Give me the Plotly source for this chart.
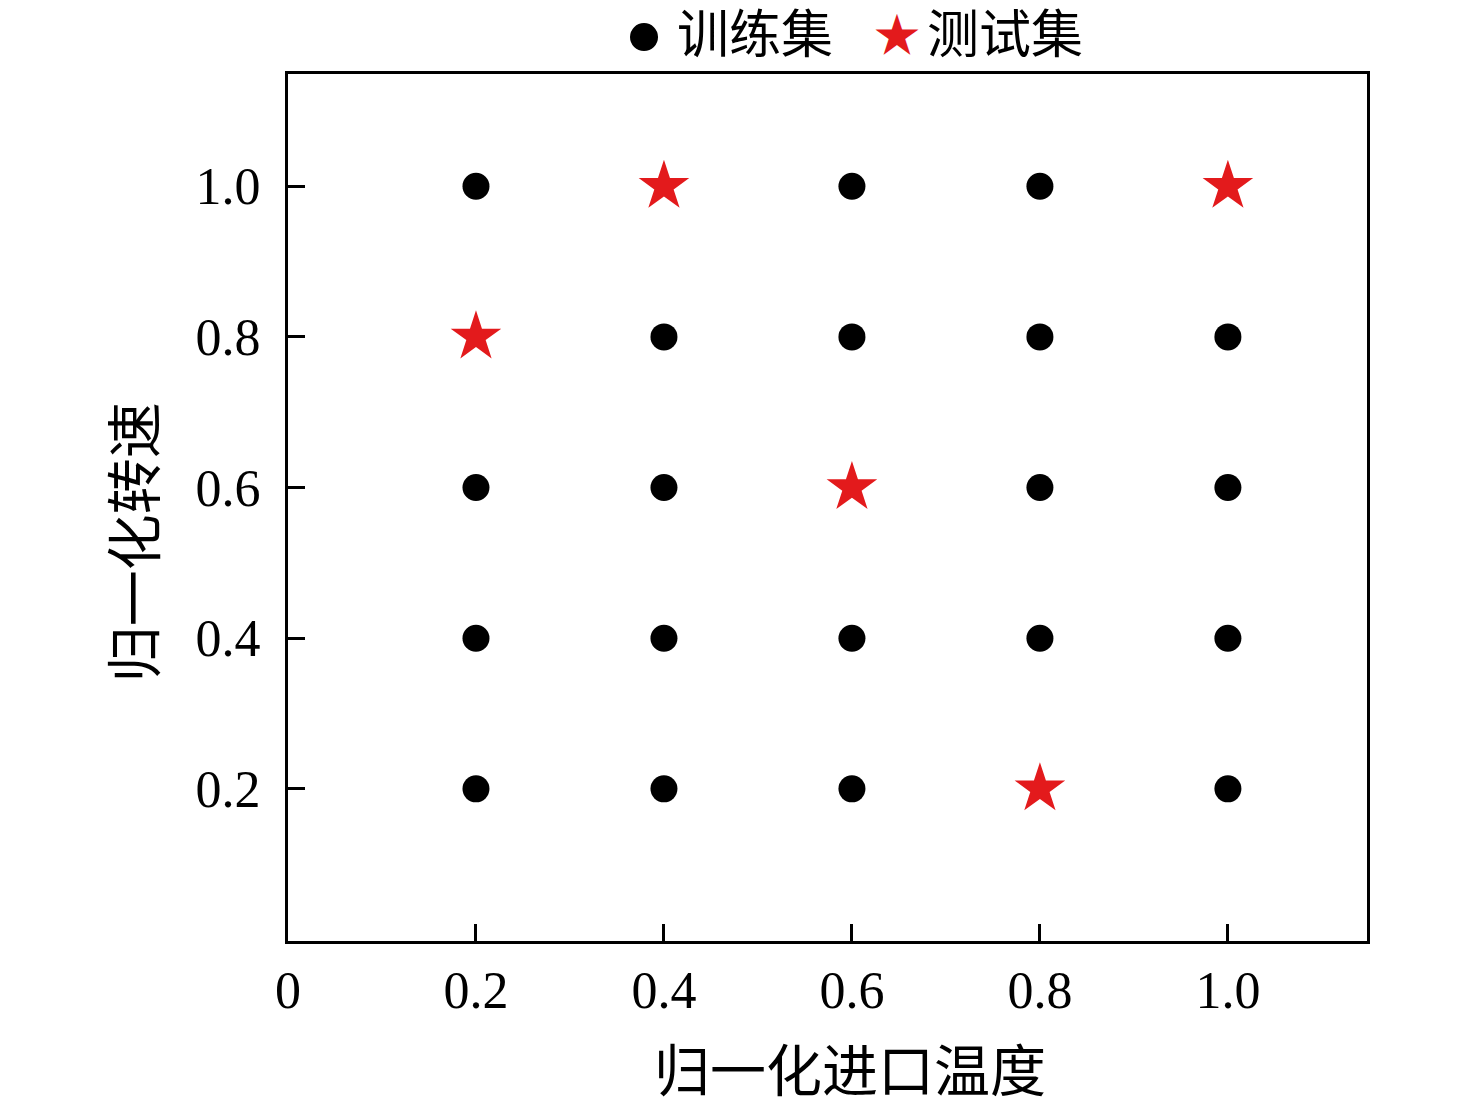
import plotly.graph_objects as go

# 训练集 / 测试集 采样点 (归一化进口温度, 归一化转速)
train_x = [0.2, 0.6, 0.8,
           0.4, 0.6, 0.8, 1.0,
           0.2, 0.4, 0.8, 1.0,
           0.2, 0.4, 0.6, 0.8, 1.0,
           0.2, 0.4, 0.6, 1.0]
train_y = [1.0, 1.0, 1.0,
           0.8, 0.8, 0.8, 0.8,
           0.6, 0.6, 0.6, 0.6,
           0.4, 0.4, 0.4, 0.4, 0.4,
           0.2, 0.2, 0.2, 0.2]
test_x = [0.4, 1.0, 0.2, 0.6, 0.8]
test_y = [1.0, 1.0, 0.8, 0.6, 0.2]

x_ticks = [0, 0.2, 0.4, 0.6, 0.8, 1.0]
x_labels = ["0", "0.2", "0.4", "0.6", "0.8", "1.0"]
y_ticks = [0.2, 0.4, 0.6, 0.8, 1.0]
y_labels = ["0.2", "0.4", "0.6", "0.8", "1.0"]

NUM_FONT = "Liberation Serif"
CJK_FONT = "Liberation Serif, Noto Sans CJK SC"
RED = "#e31a1c"

fig = go.Figure()

fig.add_trace(
    go.Scatter(
        x=train_x,
        y=train_y,
        mode="markers",
        name="训练集",
        marker=dict(symbol="circle", size=27, color="black"),
    )
)

fig.add_trace(
    go.Scatter(
        x=test_x,
        y=test_y,
        mode="markers",
        name="测试集",
        marker=dict(symbol="star", size=38, color=RED),
    )
)

axis_common = dict(
    showline=True,
    linecolor="black",
    linewidth=3,
    mirror=True,
    showgrid=False,
    zeroline=False,
    ticks="inside",
    ticklen=17,
    tickwidth=3,
    tickcolor="black",
    tickfont=dict(family=NUM_FONT, size=52, color="black"),
)

fig.update_xaxes(
    range=[0, 1.148],
    tickvals=x_ticks,
    ticktext=x_labels,
    ticklabelstandoff=2,
    **axis_common,
)
fig.update_yaxes(
    range=[-0.002, 1.149],
    tickvals=y_ticks,
    ticktext=y_labels,
    ticklabelstandoff=14,
    **axis_common,
)

# positions below are in page pixels of the original picture
PLOT_L, PLOT_T, PLOT_W, PLOT_H = 286, 72, 1082, 869


def px_x(px):
    return (px - PLOT_L) / PLOT_W


def px_y(py):
    return 1 + (PLOT_T - py) / PLOT_H


# axis titles (the original has them slightly off-centre)
fig.add_annotation(
    x=px_x(850), y=px_y(1072), xref="paper", yref="paper",
    text="归一化进口温度", showarrow=False,
    xanchor="center", yanchor="middle",
    font=dict(family=CJK_FONT, size=56, color="black"),
)
fig.add_annotation(
    x=px_x(133), y=px_y(541), xref="paper", yref="paper",
    text="归一化转速", showarrow=False, textangle=-90,
    xanchor="center", yanchor="middle",
    font=dict(family=CJK_FONT, size=56, color="black"),
)

# legend: big round dot, red star, labels
LEG_Y = 33
fig.add_shape(
    type="circle",
    xref="paper", yref="paper",
    xsizemode="pixel", ysizemode="pixel",
    xanchor=px_x(643), yanchor=px_y(35),
    x0=-14, x1=14, y0=-14, y1=14,
    fillcolor="black", line=dict(width=0),
)
legend_items = [
    (674, "训练集", "black", 52, "left"),
    (897, "★", RED, 46, "center"),
    (925, "测试集", "black", 52, "left"),
]
for px, txt, col, sz, anchor in legend_items:
    fig.add_annotation(
        x=px_x(px),
        y=px_y(LEG_Y),
        xref="paper",
        yref="paper",
        text=txt,
        showarrow=False,
        xanchor=anchor,
        yanchor="middle",
        font=dict(family=CJK_FONT, size=sz, color=col),
    )

fig.update_layout(
    width=1476,
    height=1106,
    margin=dict(l=280, r=117, t=66, b=173, autoexpand=False),
    plot_bgcolor="white",
    paper_bgcolor="white",
    showlegend=False,
)

fig.write_html("out.html")
